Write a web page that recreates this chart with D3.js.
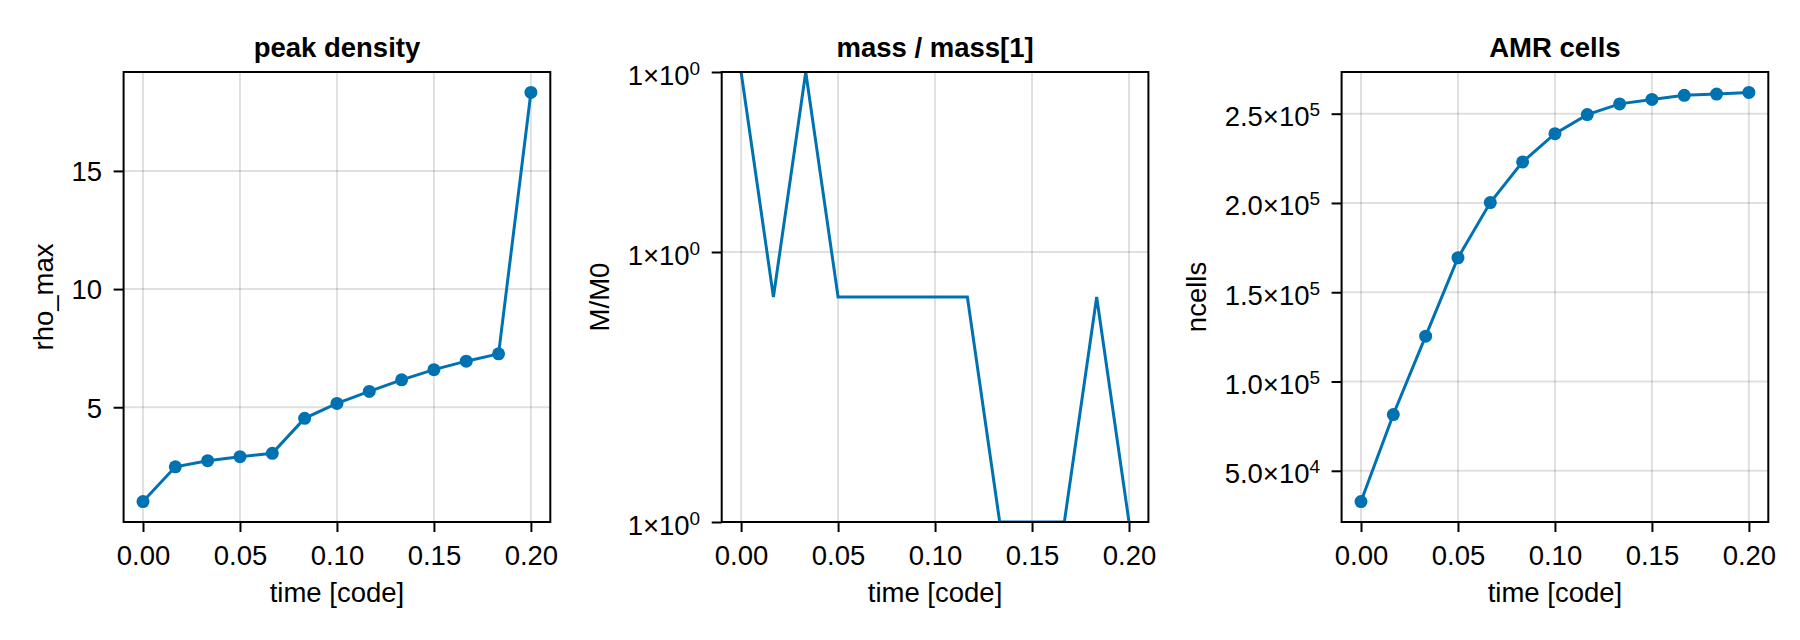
<!DOCTYPE html>
<html>
<head>
<meta charset="utf-8">
<script src="https://cdn.jsdelivr.net/npm/d3@7/dist/d3.min.js"></script>
<style>
  body { margin: 0; background: #fff; }
  svg text { font-family: "Liberation Sans", Arial, Helvetica, sans-serif; fill: #000; }
</style>
</head>
<body>
<div id="chart"></div>
<script>
// snapshot times (code units)
var time = [0, 0.016667, 0.033333, 0.05, 0.066667, 0.083333, 0.1,
            0.116667, 0.133333, 0.15, 0.166667, 0.183333, 0.2];

// peak density
var rhoMax = [1.01, 2.48, 2.74, 2.91, 3.05, 4.53, 5.16, 5.67, 6.16, 6.59, 6.95, 7.26, 18.32];

// mass / mass[1]  (differences are at round-off level)
var massRatio = [1, 0.99999999999999944, 1, 0.99999999999999944, 0.99999999999999944,
                 0.99999999999999944, 0.99999999999999944, 0.99999999999999944,
                 0.99999999999999889, 0.99999999999999889, 0.99999999999999889,
                 0.99999999999999944, 0.99999999999999889];

// AMR cell count
var ncells = [32768, 81500, 125400, 169300, 200200, 223000, 238800,
              249500, 255500, 258000, 260300, 261000, 261900];

var timeTicks = [0, 0.05, 0.1, 0.15, 0.2];
var rhoTicks = [5, 10, 15];
var massTicks = [0.99999999999999889, 0.99999999999999956, 1];
var cellTicks = [50000, 100000, 150000, 200000, 250000];

var width = 1800,
    height = 640,
    boxTop = 72,
    boxBottom = 522,
    blue = "#0072B2",
    fs = 27.5;

var svg = d3.select("#chart")
            .append("svg")
              .attr("width", width)
              .attr("height", height);

function pad(ext) {
    var d = (ext[1] - ext[0]) * 0.05;
    return [ext[0] - d, ext[1] + d];
}

// label like 2.5×10⁵ built from tspans
function sciLabel(sel, v, digits) {
    var parts = v.toExponential(digits).split("e");
    sel.append("tspan").text(parts[0] + "\u00d710");
    sel.append("tspan")
        .attr("font-size", 19)
        .attr("dy", -10)
        .text(String(+parts[1]));
}

function panel(o) {
    var w = o.x1 - o.x0,
        h = boxBottom - boxTop;

    var g = svg.append("g")
               .attr("transform", "translate(" + o.x0 + "," + boxTop + ")");

    var x = d3.scaleLinear()
              .domain(pad(d3.extent(time)))
              .range([0, w]);

    var y = (o.log ? d3.scaleLog().domain(d3.extent(o.values))
                   : d3.scaleLinear().domain(pad(d3.extent(o.values))))
              .range([h, 0]);

    // grid
    g.append("g").selectAll("line")
        .data(timeTicks).enter().append("line")
          .attr("x1", function(d) { return x(d); })
          .attr("x2", function(d) { return x(d); })
          .attr("y1", 0).attr("y2", h)
          .style("stroke", "rgba(0,0,0,0.12)")
          .style("stroke-width", 2);

    g.append("g").selectAll("line")
        .data(o.yTicks).enter().append("line")
          .attr("y1", function(d) { return y(d); })
          .attr("y2", function(d) { return y(d); })
          .attr("x1", 0).attr("x2", w)
          .style("stroke", "rgba(0,0,0,0.12)")
          .style("stroke-width", 2);

    // data
    var clipId = "clip" + o.id;
    g.append("clipPath").attr("id", clipId)
        .append("rect").attr("width", w).attr("height", h);

    var pts = time.map(function(t, i) { return [t, o.values[i]]; });

    var line = d3.line()
                 .x(function(d) { return x(d[0]); })
                 .y(function(d) { return y(d[1]); });

    var plot = g.append("g").attr("clip-path", "url(#" + clipId + ")");

    plot.append("path")
        .datum(pts)
        .attr("d", line)
        .style("fill", "none")
        .style("stroke", blue)
        .style("stroke-width", 3)
        .style("stroke-linejoin", "miter");

    if (o.markers) {
        plot.selectAll("circle")
            .data(pts).enter().append("circle")
              .attr("cx", function(d) { return x(d[0]); })
              .attr("cy", function(d) { return y(d[1]); })
              .attr("r", 6.5)
              .style("fill", blue);
    }

    // x axis
    var xAxis = d3.axisBottom(x)
                  .tickValues(timeTicks)
                  .tickSize(10)
                  .tickPadding(13)
                  .tickFormat(d3.format(".2f"));

    var gx = g.append("g")
              .attr("transform", "translate(0," + h + ")")
              .call(xAxis);
    gx.select(".domain").remove();
    gx.selectAll(".tick line").style("stroke", "#000").style("stroke-width", 2);
    gx.selectAll(".tick text")
        .attr("font-size", fs)
        .attr("dy", null)
        .attr("y", 42.5)
        .style("fill", "#000");
    gx.attr("font-family", null).attr("font-size", null);

    // y axis
    var yAxis = d3.axisLeft(y)
                  .tickValues(o.yTicks)
                  .tickSize(10)
                  .tickFormat("");

    var gy = g.append("g").call(yAxis);
    gy.attr("font-family", null).attr("font-size", null);
    gy.select(".domain").remove();
    gy.selectAll(".tick line").style("stroke", "#000").style("stroke-width", 2);
    gy.selectAll(".tick text").remove();
    gy.selectAll(".tick").each(function(d) {
        var t = d3.select(this).append("text")
                  .attr("x", -21.5)
                  .attr("text-anchor", "end")
                  .attr("font-size", fs);
        if (o.sci !== undefined) {
            t.attr("y", 12);
            sciLabel(t, d, o.sci);
        } else {
            t.attr("y", 9.8).text(d);
        }
    });

    // frame
    g.append("rect")
        .attr("width", w)
        .attr("height", h)
        .style("fill", "none")
        .style("stroke", "#000")
        .style("stroke-width", 2);

    // title
    g.append("text")
        .attr("x", w / 2)
        .attr("y", -15)
        .attr("text-anchor", "middle")
        .attr("font-size", fs)
        .attr("font-weight", "bold")
        .text(o.title);

    // axis labels
    g.append("text")
        .attr("x", w / 2)
        .attr("y", h + 79.5)
        .attr("text-anchor", "middle")
        .attr("font-size", fs)
        .text("time [code]");

    var left = gy.node().getBBox().x;
    g.append("text")
        .attr("transform", "translate(" + (left - 18.5) + "," + (h / 2) + ") rotate(-90)")
        .attr("text-anchor", "middle")
        .attr("font-size", fs)
        .text(o.ylabel);
}

panel({ id: 1, x0: 123.6, x1: 550.3, values: rhoMax, yTicks: rhoTicks,
        title: "peak density", ylabel: "rho_max", markers: true });

panel({ id: 2, x0: 721.7, x1: 1148.4, values: massRatio, yTicks: massTicks,
        title: "mass / mass[1]", ylabel: "M/M0", markers: false, log: true, sci: 0 });

panel({ id: 3, x0: 1341.6, x1: 1768.3, values: ncells, yTicks: cellTicks,
        title: "AMR cells", ylabel: "ncells", markers: true, sci: 1 });
</script>
</body>
</html>
